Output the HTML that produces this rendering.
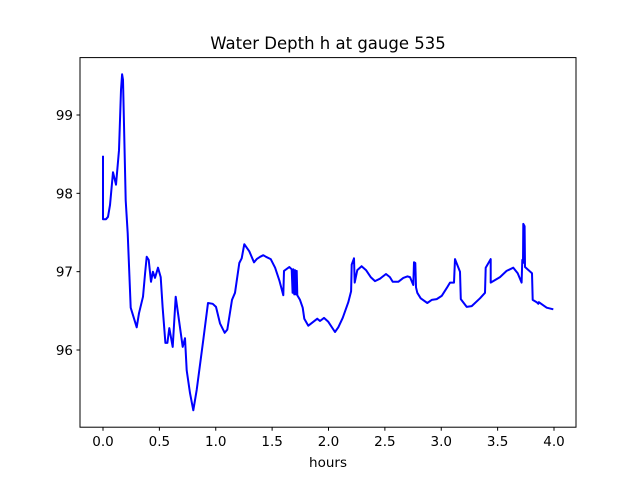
<!DOCTYPE html>
<html><head><meta charset="utf-8"><style>
html,body{margin:0;padding:0;background:#fff;}
svg text{font-family:"DejaVu Sans","Liberation Sans",sans-serif;fill:#000;}
</style></head><body>
<svg id="chart" width="640" height="480" xmlns="http://www.w3.org/2000/svg">
<rect width="640" height="480" fill="#fff"/>
<text x="328" y="49" font-size="16.5" text-anchor="middle">Water Depth h at gauge 535</text>
<text x="328" y="467" font-size="13.5" text-anchor="middle">hours</text>
<g id="ticks"></g>
<path id="series" fill="none" stroke="#0000ff" stroke-width="2" stroke-linejoin="round"/>
<rect x="80" y="57.6" width="496" height="369.6" fill="none" stroke="#000" stroke-width="1"/>
</svg>
<script>
const hours=[0,0,0.027,0.044,0.062,0.089,0.115,0.142,0.160,0.169,0.177,0.201,0.219,0.246,0.299,0.319,0.355,0.373,0.388,0.405,0.426,0.443,0.461,0.488,0.512,0.529,0.553,0.571,0.588,0.618,0.645,0.665,0.707,0.727,0.742,0.772,0.801,0.831,0.890,0.931,0.973,1.002,1.038,1.079,1.102,1.144,1.171,1.209,1.230,1.253,1.298,1.339,1.363,1.393,1.422,1.446,1.487,1.526,1.564,1.599,1.605,1.652,1.674,1.682,1.688,1.697,1.703,1.712,1.718,1.723,1.747,1.771,1.785,1.821,1.865,1.901,1.925,1.960,1.998,2.058,2.087,2.126,2.176,2.200,2.206,2.226,2.232,2.255,2.294,2.333,2.374,2.412,2.457,2.510,2.545,2.569,2.619,2.663,2.699,2.723,2.752,2.758,2.770,2.776,2.788,2.818,2.876,2.915,2.960,3.004,3.048,3.078,3.113,3.122,3.166,3.173,3.226,3.270,3.344,3.388,3.394,3.439,3.439,3.521,3.580,3.639,3.678,3.713,3.719,3.725,3.728,3.739,3.743,3.805,3.811,3.847,3.861,3.866,3.905,3.935,3.994];
const depth=[98.48,97.67,97.67,97.70,97.85,98.27,98.11,98.55,99.32,99.52,99.45,97.91,97.49,96.54,96.29,96.47,96.68,96.98,97.19,97.15,96.87,97.00,96.92,97.05,96.93,96.55,96.09,96.09,96.28,96.04,96.68,96.47,96.04,96.15,95.74,95.45,95.23,95.49,96.13,96.60,96.59,96.55,96.34,96.22,96.26,96.64,96.73,97.11,97.17,97.35,97.26,97.12,97.16,97.19,97.21,97.19,97.16,97.05,96.89,96.70,97.01,97.06,97.03,96.73,97.03,96.71,97.02,96.71,97.01,96.70,96.64,96.54,96.40,96.31,96.36,96.40,96.37,96.41,96.36,96.23,96.29,96.41,96.61,96.75,97.09,97.17,96.86,97.02,97.07,97.02,96.93,96.88,96.91,96.97,96.93,96.87,96.87,96.92,96.94,96.93,96.83,97.12,97.11,96.80,96.73,96.66,96.60,96.64,96.65,96.69,96.79,96.86,96.86,97.16,97.00,96.65,96.55,96.56,96.66,96.73,97.05,97.16,96.86,96.93,97.01,97.05,96.98,96.86,97.15,97.11,97.61,97.58,97.06,96.98,96.64,96.61,96.59,96.61,96.57,96.54,96.52];
const xTicks=[0,0.5,1,1.5,2,2.5,3,3.5,4];
const xTickLabels=["0.0","0.5","1.0","1.5","2.0","2.5","3.0","3.5","4.0"];
const yTicks=[96,97,98,99];
const yTickLabels=["96","97","98","99"];
function xs(h){return 103+h*112.75;}
function ys(v){return 115+(99-v)*78.33;}
const NS="http://www.w3.org/2000/svg";
const g=document.getElementById('ticks');
xTicks.forEach((t,i)=>{
  const l=document.createElementNS(NS,'line');
  
  
  l.setAttribute('x1',xs(t));l.setAttribute('x2',xs(t));l.setAttribute('y1',427.2);l.setAttribute('y2',430.7);l.setAttribute('stroke','#000');
  g.appendChild(l);
  const tx=document.createElementNS(NS,'text');
  
  
  tx.setAttribute('x',xs(t));tx.setAttribute('y',446);tx.setAttribute('font-size','13.5');tx.setAttribute('text-anchor','middle');
  tx.textContent=xTickLabels[i];g.appendChild(tx);
});
yTicks.forEach((t,i)=>{
  const l=document.createElementNS(NS,'line');
  
  
  l.setAttribute('x1',76.5);l.setAttribute('x2',80);l.setAttribute('y1',ys(t));l.setAttribute('y2',ys(t));l.setAttribute('stroke','#000');
  g.appendChild(l);
  const tx=document.createElementNS(NS,'text');
  
  
  tx.setAttribute('x',73);tx.setAttribute('y',ys(t)+5);tx.setAttribute('font-size','13.5');tx.setAttribute('text-anchor','end');
  tx.textContent=yTickLabels[i];g.appendChild(tx);
});
document.getElementById('series').setAttribute('d',hours.map((h,i)=>(i?'L':'M')+xs(h).toFixed(1)+','+ys(depth[i]).toFixed(1)).join(''));
</script>
</body></html>
